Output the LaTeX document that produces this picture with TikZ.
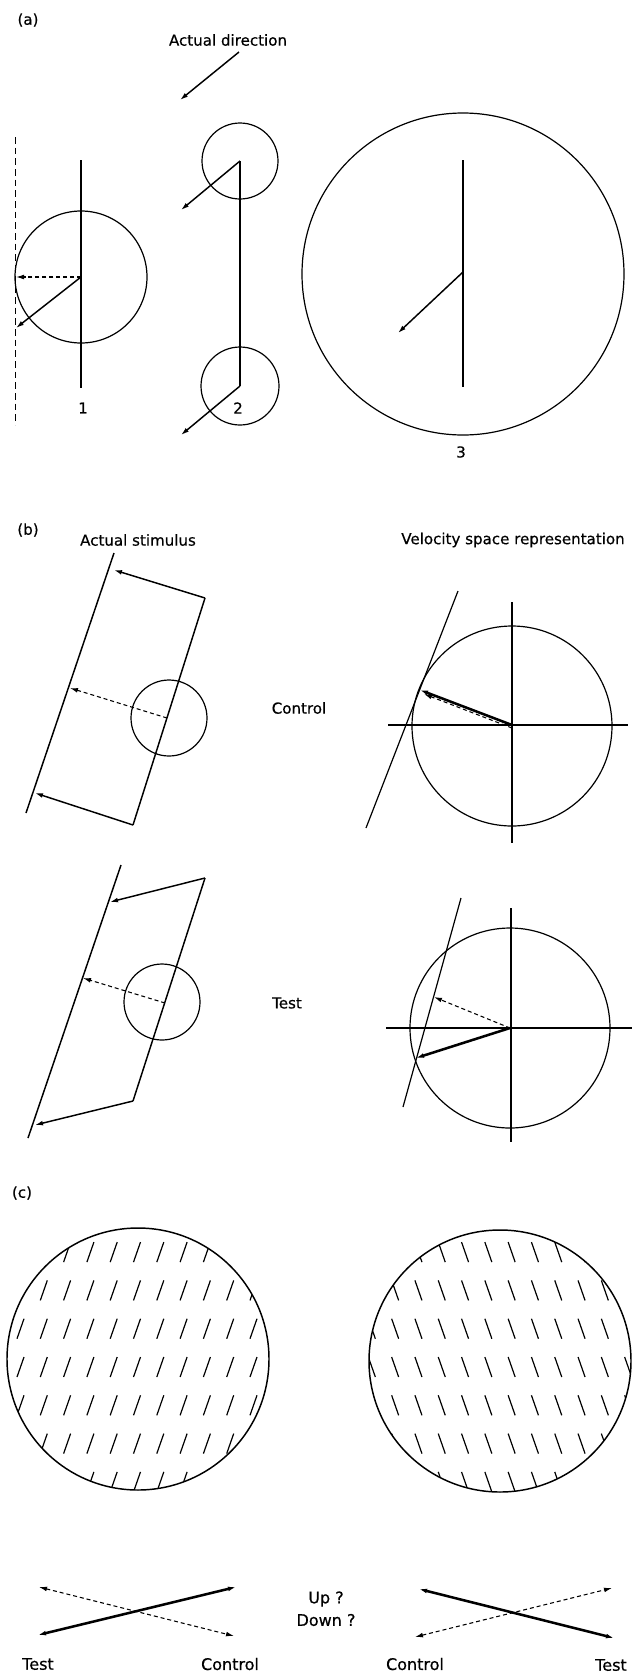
\documentclass[tikz,border=0pt]{standalone}
\usepackage{fontspec}
\setmainfont{DejaVu Sans}
\newfontfamily\lblfont{DejaVu Sans}[FakeBold=0.5]
\usetikzlibrary{arrows.meta}
\begin{document}
\begin{tikzpicture}[x=0.75pt,y=-0.75pt,
  ring/.style={line width=0.9pt},
  stroke/.style={line width=1.1pt},
  heavy/.style={line width=1.9pt},
  dashln/.style={line width=0.8pt,dash pattern=on 3pt off 2.2pt},
  tip/.style={-{Latex[length=6pt,width=3.6pt]}},
  twotip/.style={{Latex[length=6pt,width=3.6pt]}-{Latex[length=6pt,width=3.6pt]}},
  hatchln/.style={line width=0.9pt},
  lbl/.style={font=\lblfont\fontsize{11.3}{13}\selectfont, inner sep=0pt},
  biglbl/.style={font=\lblfont\fontsize{12}{14}\selectfont, inner sep=0pt}
]
\useasboundingbox (0,0) rectangle (634,1675);

% ================= (a) =================
\node[lbl] (la) at (28,20) {(a)};
\node[lbl] (lad) at (228,40) {Actual direction};
\coordinate (ad1) at (239,52); \coordinate (ad2) at (180,100);
\draw[stroke,tip] (ad1) -- (ad2);

% 1
\coordinate (dT) at (15.5,137); \coordinate (dB) at (15.5,425);
\draw[line width=0.8pt,dash pattern=on 5pt off 3pt] (dT) -- (dB);
\coordinate (c1) at (81,277);
\draw[ring] (c1) circle[radius=66];
\coordinate (l1t) at (81,160); \coordinate (l1b) at (81,388);
\draw[stroke] (l1t) -- (l1b);
\coordinate (a1d) at (16,277); \coordinate (a1s) at (16,328);
\draw[dashln,tip] (c1) -- (a1d);
\draw[stroke,tip] (c1) -- (a1s);
\node[lbl] (n1) at (83,408) {1};

% 2
\coordinate (c2a) at (240,161); \coordinate (c2b) at (240,386);
\draw[ring] (c2a) circle[radius=38];
\draw[ring] (c2b) circle[radius=39];
\draw[stroke] (c2a) -- (c2b);
\coordinate (a2a) at (181,210); \coordinate (a2b) at (181,435);
\draw[stroke,tip] (c2a) -- (a2a);
\draw[stroke,tip] (c2b) -- (a2b);
\node[lbl] (n2) at (238,408) {2};

% 3
\coordinate (c3) at (463,274);
\draw[ring] (c3) circle[radius=161];
\coordinate (l3t) at (463,160); \coordinate (l3b) at (463,387);
\draw[stroke] (l3t) -- (l3b);
\coordinate (a3o) at (463,272); \coordinate (a3e) at (398,333);
\draw[stroke,tip] (a3o) -- (a3e);
\node[lbl] (n3) at (461,452) {3};

% ================= (b) =================
\node[lbl] (lb) at (28,530) {(b)};
\node[lbl] (las) at (138,540) {Actual stimulus};
\node[lbl] (lvs) at (513,540) {Velocity space representation};
\node[lbl] (lctl) at (299,708) {Control};
\node[lbl] (ltst) at (287,1003) {Test};

% control stimulus
\coordinate (cL1) at (114,553); \coordinate (cL2) at (26,813);
\draw[stroke] (cL1) -- (cL2);
\coordinate (cR1) at (205,598); \coordinate (cR2) at (133,825);
\draw[stroke] (cR1) -- (cR2);
\coordinate (cTa) at (114,570); \coordinate (cBa) at (35,793);
\draw[stroke,tip] (cR1) -- (cTa);
\draw[stroke,tip] (cR2) -- (cBa);
\coordinate (cc) at (169,718);
\draw[ring] (cc) circle[radius=38];
\coordinate (cdo) at (167,718); \coordinate (cde) at (70,688);
\draw[dashln,tip] (cdo) -- (cde);

% control velocity space
\coordinate (vc) at (512,725);
\draw[ring] (512,726) circle[radius=100];
\coordinate (vcT) at (512,602); \coordinate (vcB) at (512,843);
\coordinate (vcL) at (388,725); \coordinate (vcR) at (628,725);
\draw[ring] (vcT) -- (vcB);
\draw[ring] (vcL) -- (vcR);
\coordinate (vcl1) at (458,591); \coordinate (vcl2) at (366,828);
\draw[ring] (vcl1) -- (vcl2);
\coordinate (vce) at (420,690); \coordinate (vcd) at (512,728); \coordinate (vcde) at (424,694);
\draw[dashln,tip] (vcd) -- (vcde);
\draw[heavy,tip] (vc) -- (vce);

% test stimulus
\coordinate (tL1) at (121,865); \coordinate (tL2) at (28,1138);
\draw[stroke] (tL1) -- (tL2);
\coordinate (tR1) at (205,878); \coordinate (tR2) at (133,1101);
\draw[stroke] (tR1) -- (tR2);
\coordinate (tTa) at (110,902); \coordinate (tBa) at (35,1125);
\draw[stroke,tip] (tR1) -- (tTa);
\draw[stroke,tip] (tR2) -- (tBa);
\coordinate (tc) at (162,1002);
\draw[ring] (tc) circle[radius=38];
\coordinate (tdo) at (165,1003); \coordinate (tde) at (83,978);
\draw[dashln,tip] (tdo) -- (tde);

% test velocity space
\coordinate (vt) at (510,1028);
\draw[ring] (vt) circle[radius=100];
\coordinate (vtT) at (511,908); \coordinate (vtB) at (511,1142);
\coordinate (vtL) at (386,1028); \coordinate (vtR) at (632,1028);
\draw[ring] (vtT) -- (vtB);
\draw[ring] (vtL) -- (vtR);
\coordinate (vtl1) at (461,898); \coordinate (vtl2) at (403,1107);
\draw[ring] (vtl1) -- (vtl2);
\coordinate (vtd) at (434,997); \coordinate (vts) at (416,1058);
\draw[dashln,tip] (vt) -- (vtd);
\draw[heavy,tip] (vt) -- (vts);

% ================= (c) =================
\node[lbl] (lc) at (22,1193) {(c)};

\coordinate (hL) at (138,1359);
\begin{scope}
  \clip (hL) circle[radius=131];
  \foreach \j in {-3,...,3}{
    \foreach \m in {-6,...,6}{
      \draw[hatchln] ({137+23.3*\m-3.5},{1367+38.3*\j+10}) -- ++(7,-20);
    }
  }
\end{scope}
\draw[stroke] (hL) circle[radius=131];

\coordinate (hR) at (500,1361);
\begin{scope}
  \clip (hR) circle[radius=131];
  \foreach \j in {-3,...,3}{
    \foreach \m in {-6,...,6}{
      \draw[hatchln] ({488.35+23.3*\m-3.5},{1367+38.3*\j-10}) -- ++(7,20);
    }
  }
\end{scope}
\draw[stroke] (hR) circle[radius=131];

% bottom arrows
\coordinate (xa1) at (38,1635); \coordinate (xa2) at (236,1587);
\coordinate (xb1) at (39,1587); \coordinate (xb2) at (234,1636);
\draw[heavy,twotip] (xa1) -- (xa2);
\draw[dashln,twotip] (xb1) -- (xb2);

\coordinate (ya1) at (419,1589); \coordinate (ya2) at (614,1638);
\coordinate (yb1) at (415,1637); \coordinate (yb2) at (612,1588);
\draw[heavy,twotip] (ya1) -- (ya2);
\draw[dashln,twotip] (yb1) -- (yb2);

\node[biglbl] (lup) at (326,1599) {Up ?};
\node[biglbl] (ldn) at (326,1620) {Down ?};
\node[biglbl] (bt1) at (38,1664) {Test};
\node[biglbl] (bc1) at (230,1664) {Control};
\node[biglbl] (bc2) at (415,1664) {Control};
\node[biglbl] (bt2) at (611,1665) {Test};
\end{tikzpicture}
\end{document}
